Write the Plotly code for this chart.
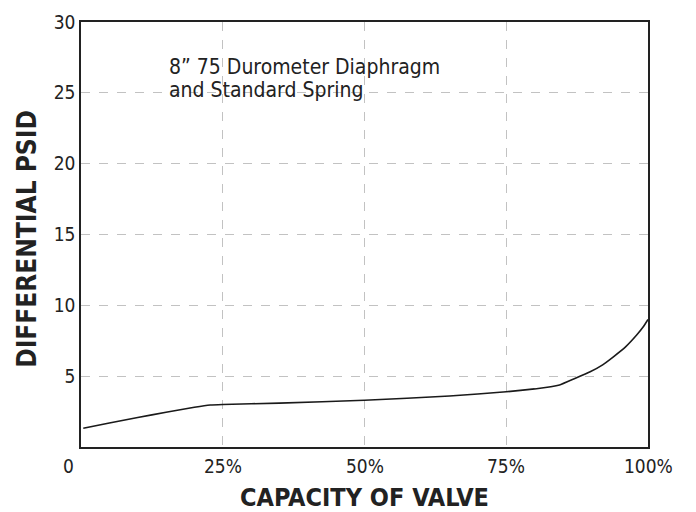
import plotly.graph_objects as go

capacity_pct = [0.4, 5, 10, 15, 20, 22.8, 25, 35, 50, 65, 75, 80, 84.4, 87, 89.8, 92, 93.9, 96, 98, 99.2, 100]
diff_psid = [1.32, 1.7, 2.08, 2.45, 2.8, 2.96, 3.0, 3.1, 3.3, 3.6, 3.9, 4.1, 4.38, 4.82, 5.31, 5.8, 6.37, 7.05, 7.9, 8.5, 9.0]

x_tick_vals = [0, 25, 50, 75, 100]
x_tick_text = ["0", "25%", "50%", "75%", "100%"]
y_tick_vals = [5, 10, 15, 20, 25, 30]
y_tick_text = ["5", "10", "15", "20", "25", "30"]

note_lines = ["8\u201d 75 Durometer Diaphragm", "and Standard Spring"]
x_title = "CAPACITY OF VALVE"
y_title = "DIFFERENTIAL PSID"

FONT = "DejaVu Sans Condensed, Liberation Sans Narrow, Arial Narrow, Roboto, sans-serif"
INK = "#222"

fig = go.Figure()
fig.add_trace(go.Scatter(x=capacity_pct, y=diff_psid, mode="lines",
                         line=dict(color="#1a1a1a", width=1.6, shape="spline", smoothing=0.3),
                         hoverinfo="skip", showlegend=False))

for xv, txt in zip(x_tick_vals, x_tick_text):
    fig.add_annotation(x=xv, y=0, xref="x", yref="y", text=txt, showarrow=False,
                       yanchor="top", yshift=-6, xshift=(-13 if xv == 0 else 0),
                       font=dict(family=FONT, size=19, color=INK))

for i, line in enumerate(note_lines):
    fig.add_annotation(x=15.2, y=26.85 - i * 1.62, xref="x", yref="y", xanchor="left", yanchor="middle",
                       text=line, showarrow=False, align="left",
                       font=dict(family=FONT, size=21, color=INK))

fig.add_annotation(x=0.5, y=0, xref="paper", yref="paper", yanchor="middle", xanchor="center",
                   yshift=-50, text="<b>" + x_title + "</b>", showarrow=False,
                   font=dict(family=FONT, size=25, color=INK))
fig.add_annotation(x=0, y=0.49, xref="paper", yref="paper", yanchor="middle", xanchor="center",
                   xshift=-54, textangle=-90, text="<b>" + y_title + "</b>", showarrow=False,
                   font=dict(family=FONT, size=26, color=INK))

fig.update_layout(
    width=696, height=512,
    margin=dict(l=81, r=48, t=22, b=65, autoexpand=False),
    plot_bgcolor="white", paper_bgcolor="white",
    font=dict(family=FONT, color=INK),
    xaxis=dict(range=[0, 100], tickvals=x_tick_vals, showticklabels=False, ticks="",
               showgrid=True, gridcolor="#c2c2c2", griddash="dash", gridwidth=1.3,
               showline=True, linecolor=INK, linewidth=1.6, mirror=True, zeroline=False),
    yaxis=dict(range=[0, 30], tickvals=y_tick_vals, ticktext=y_tick_text, ticks="",
               tickfont=dict(family=FONT, size=19, color=INK), automargin=False,
               showgrid=True, gridcolor="#c2c2c2", griddash="dash", gridwidth=1.3,
               showline=True, linecolor=INK, linewidth=1.6, mirror=True, zeroline=False),
)

fig.write_html("out.html", config={"displayModeBar": False},
               post_script="document.body.style.margin='0';document.body.style.padding='0';")
